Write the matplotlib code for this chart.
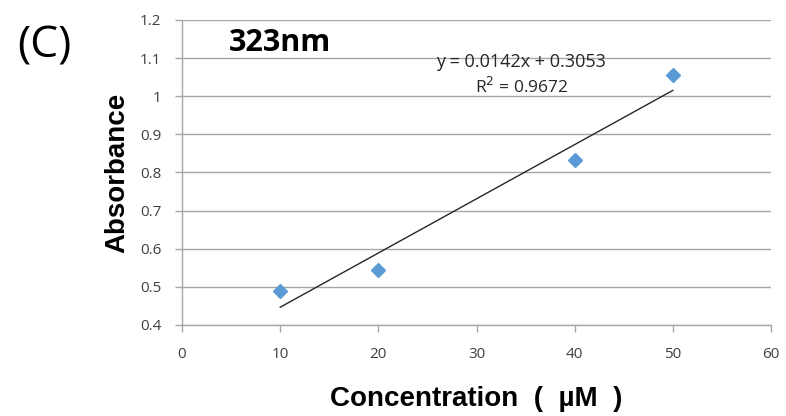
import numpy as np
import matplotlib.pyplot as plt

conc = [10, 20, 40, 50]
absorb = [0.490, 0.544, 0.834, 1.056]
x_ticks = [0, 10, 20, 30, 40, 50, 60]
y_ticks = [0.4, 0.5, 0.6, 0.7, 0.8, 0.9, 1.0, 1.1, 1.2]
y_labels = ['0.4', '0.5', '0.6', '0.7', '0.8', '0.9', '1', '1.1', '1.2']

fig = plt.figure(figsize=(7.86, 4.16), dpi=100)
ax = fig.add_axes([0.2316, 0.2188, 0.981 - 0.2316, 0.952 - 0.2188])

# trendline
k, b = np.polyfit(conc, absorb, 1)
xs = np.array([min(conc), max(conc)])
ax.plot(xs, k * xs + b, color='#262626', lw=1.0, zorder=2)
ax.plot(conc, absorb, linestyle='none', marker='D', ms=7.5, color='#5B9BD5', zorder=3)

ax.set_xlim(0, 60)
ax.set_ylim(0.4, 1.2)
ax.set_xticks(x_ticks)
ax.set_yticks(y_ticks)
ax.set_yticklabels(y_labels)
ax.grid(axis='y', color='#A6A6A6', lw=1.0)
ax.set_axisbelow(True)
for s in ['top', 'right']:
    ax.spines[s].set_visible(False)
for s in ['left', 'bottom']:
    ax.spines[s].set_color('#A6A6A6')
    ax.spines[s].set_linewidth(1.0)
ax.tick_params(colors='#A6A6A6', length=5, width=1.0, labelcolor='#404040')
for lab in ax.get_xticklabels() + ax.get_yticklabels():
    lab.set_fontfamily('Open Sans')
    lab.set_fontsize(11)
ax.tick_params(axis='x', pad=11)
ax.tick_params(axis='y', pad=10)

ax.set_xlabel('Concentration  (  µM  )', fontfamily='Liberation Sans', fontweight='bold',
              fontsize=20, labelpad=17)
ax.set_ylabel('Absorbance', fontfamily='Liberation Sans', fontweight='bold',
              fontsize=20, labelpad=7)

ax.text(0.08, 0.923, '323nm', transform=ax.transAxes, fontfamily='Open Sans',
        fontweight='bold', fontsize=22, va='center', ha='left')
ax.text(0.576, 0.862, 'y = 0.0142x + 0.3053', transform=ax.transAxes,
        fontfamily='Open Sans', fontsize=13, ha='center', va='center', color='#262626')
ax.text(0.576, 0.78, 'R$^2$ = 0.9672', transform=ax.transAxes,
        fontfamily='Open Sans', fontsize=12.5, ha='center', va='center', color='#262626')

fig.text(0.057, 0.89, '(C)', fontfamily='Open Sans', fontsize=32, ha='center', va='center')

plt.savefig('out.png', dpi=100)
